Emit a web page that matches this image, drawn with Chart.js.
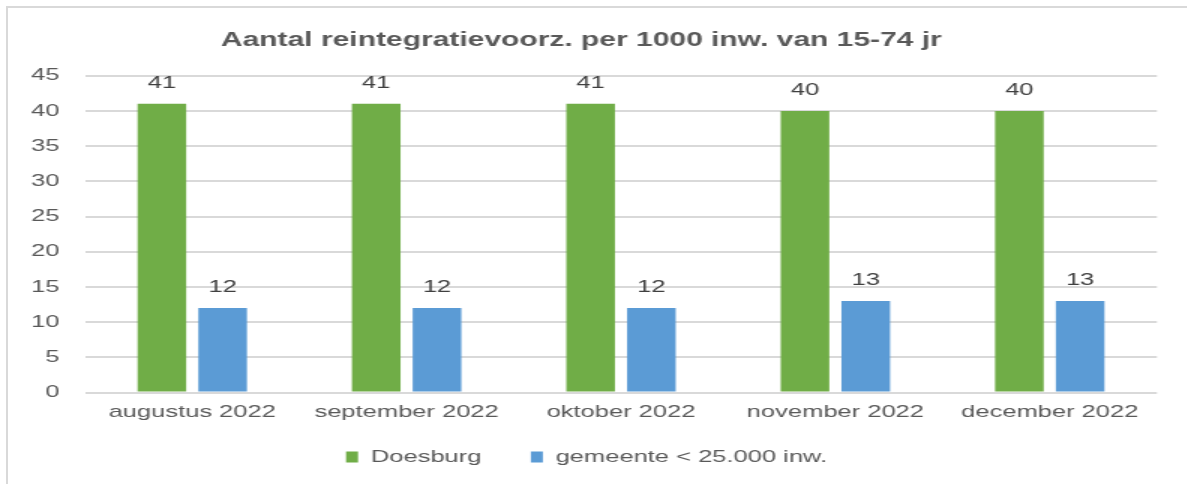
<!DOCTYPE html>
<html>
<head>
<meta charset="utf-8">
<script src="https://cdn.jsdelivr.net/npm/chart.js@4/dist/chart.umd.min.js"></script>
<style>
  html, body { margin: 0; padding: 0; background: #fff; overflow: hidden; }
  #frame { position: absolute; left: 6px; top: 6px; width: 1400px; height: 700px; border: 2px solid #d9d9d9; }
  #wrap { position: absolute; left: 0; top: 0; width: 791.33px; height: 484px; transform: scaleX(1.5); transform-origin: 0 0; }
</style>
</head>
<body>
<div id="frame"></div>
<div id="wrap"><canvas id="reint"></canvas></div>
<script>
// data
var months = ["augustus 2022", "september 2022", "oktober 2022", "november 2022", "december 2022"];
var doesburg = [41, 41, 41, 40, 40];
var gemeente = [12, 12, 12, 13, 13];
var yTicks = [0, 5, 10, 15, 20, 25, 30, 35, 40, 45];

var FONT = "'Liberation Sans', Arial, sans-serif";

// value labels above the bars
var barValues = {
    id: 'barValues',
    afterDatasetsDraw: function (chart) {
        var ctx = chart.ctx;
        ctx.save();
        ctx.font = '17px ' + FONT;
        ctx.fillStyle = '#404040';
        ctx.textAlign = 'center';
        ctx.textBaseline = 'middle';
        chart.data.datasets.forEach(function (ds, i) {
            chart.getDatasetMeta(i).data.forEach(function (bar, j) {
                ctx.fillText(ds.data[j], bar.x, bar.y - 21);
            });
        });
        ctx.restore();
    }
};

// pull the legend a bit closer to the axis labels
var legendNudge = {
    id: 'legendNudge',
    afterLayout: function (chart) {
        if (chart.legend) {
            chart.legend.top -= 11;
            chart.legend.bottom -= 11;
            chart.legend.left += 3.5;
            chart.legend.right += 3.5;
        }
    }
};

var ctx = document.getElementById('reint');
var chart = new Chart(ctx, {
    type: 'bar',
    data: {
        labels: months,
        datasets: [
            {
                label: "Doesburg",
                backgroundColor: "#70AD47",
                data: doesburg
            },
            {
                label: "gemeente < 25.000 inw.",
                backgroundColor: "#5B9BD5",
                data: gemeente
            }
        ]
    },
    options: {
        responsive: true,
        maintainAspectRatio: false,
        animation: false,
        categoryPercentage: 0.567,
        barPercentage: 0.8,
        layout: { padding: { left: 3.8, right: 20, top: 0, bottom: 0.5 } },
        scales: {
            x: {
                grid: { display: false, drawTicks: false },
                border: { display: false },
                ticks: { color: '#595959', font: { family: FONT, size: 17 }, padding: 10, maxRotation: 0 },
                afterFit: function (scale) { scale.height = 34; }
            },
            y: {
                min: 0,
                max: 45,
                afterBuildTicks: function (scale) {
                    scale.ticks = yTicks.map(function (v) { return { value: v }; });
                },
                grid: { color: '#d9d9d9', lineWidth: 2, drawTicks: false },
                border: { display: false },
                ticks: { color: '#595959', font: { family: FONT, size: 17 }, padding: 17 }
            }
        },
        plugins: {
            title: {
                display: true,
                text: "Aantal reintegratievoorz. per 1000 inw. van 15-74 jr",
                color: '#595959',
                font: { family: FONT, size: 20, weight: 'bold' },
                padding: { top: 28, bottom: 23.7 }
            },
            legend: {
                position: 'bottom',
                maxHeight: 57,
                labels: {
                    color: '#595959',
                    font: { family: FONT, size: 17 },
                    boxWidth: 8,
                    boxHeight: 11,
                    padding: 33
                }
            },
            tooltip: { enabled: false }
        }
    },
    plugins: [barValues, legendNudge]
});
</script>
</body>
</html>
